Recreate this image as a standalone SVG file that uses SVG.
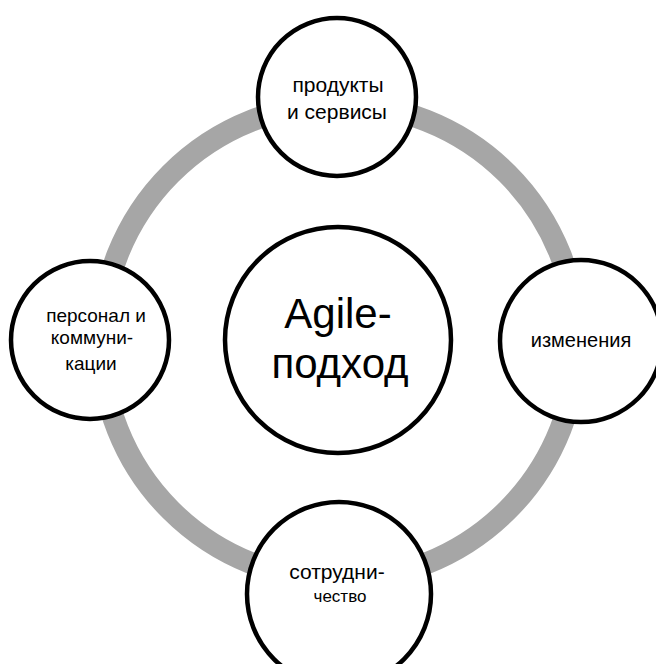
<svg xmlns="http://www.w3.org/2000/svg" width="656" height="664" viewBox="0 0 656 664">
<style>
.node{fill:#fff;stroke:#000;stroke-width:4.5}
.t{font-family:"Liberation Sans",Arial,sans-serif;fill:#000;text-anchor:middle}
.big{font-size:42px}
</style>
<rect width="656" height="664" fill="#fff"/>
<g id="connectors">
<circle cx="339" cy="342" r="238" fill="none" stroke="#A6A6A6" stroke-width="22"/>
</g>
<g id="center">
<circle class="node" cx="338" cy="340" r="113"/>
<text class="t big" x="338" y="328">Agile-</text>
<text class="t big" x="340" y="378">подход</text>
</g>
<g id="top">
<circle class="node" cx="337" cy="97" r="79"/>
<text class="t" style="font-size:21px" x="338" y="92">продукты</text>
<text class="t" style="font-size:21px" x="337" y="119">и сервисы</text>
</g>
<g id="right">
<circle class="node" cx="581" cy="341" r="81"/>
<text class="t" style="font-size:20px" x="581" y="347">изменения</text>
</g>
<g id="bottom">
<circle class="node" cx="339" cy="594" r="92"/>
<text class="t" style="font-size:21px" x="337" y="579">сотрудни-</text>
<text class="t" style="font-size:17px" x="340" y="602">чество</text>
</g>
<g id="left">
<circle class="node" cx="90" cy="340" r="79"/>
<text class="t" style="font-size:19px" x="96" y="322">персонал и</text>
<text class="t" style="font-size:19px" x="92" y="344">коммуни-</text>
<text class="t" style="font-size:19px" x="91" y="370">кации</text>
</g>
</svg>
